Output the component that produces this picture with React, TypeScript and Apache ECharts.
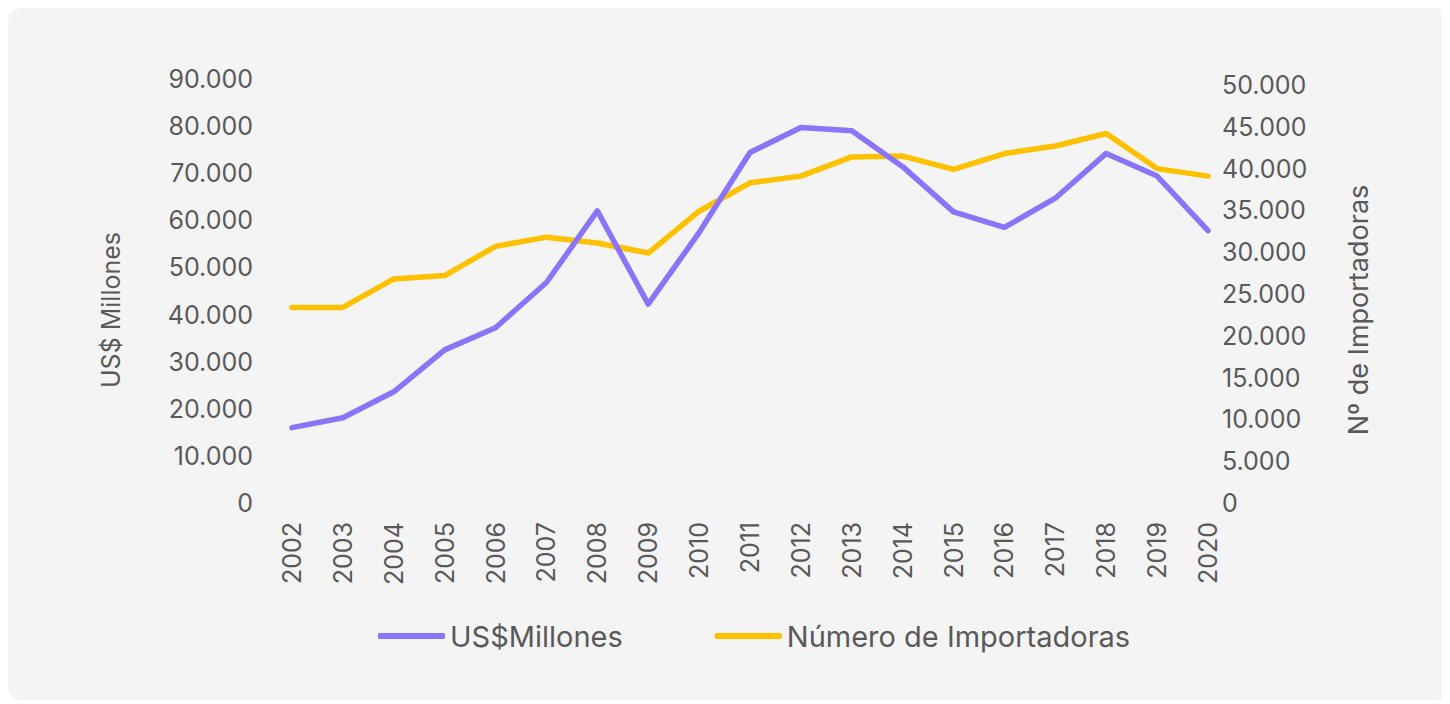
import React, { useEffect, useRef } from "react";
import * as echarts from "echarts";

const years = [
  "2002", "2003", "2004", "2005", "2006", "2007", "2008", "2009", "2010", "2011",
  "2012", "2013", "2014", "2015", "2016", "2017", "2018", "2019", "2020",
];
const usdMillions = [
  16000, 18100, 23600, 32500, 37200, 46800, 62000, 42200, 57400, 74400,
  79700, 79000, 71400, 61800, 58500, 64700, 74200, 69400, 57800,
];
const importerCount = [
  23400, 23400, 26800, 27200, 30700, 31800, 31100, 29900, 34900, 38300,
  39100, 41400, 41500, 39900, 41800, 42700, 44200, 40000, 39100,
];
const seriesNames = ["US$Millones", "Número de Importadoras"];
const leftAxisTitle = "US$ Millones";
const rightAxisTitle = "Nº de Importadoras";

const FONT = "Inter, 'Noto Sans', sans-serif";
const TEXT = "#595959";
const PURPLE = "#8A74F9";
const GOLD = "#FFC000";

const fmt = (v: number) => String(v).replace(/\B(?=(\d{3})+(?!\d))/g, ".");

export default function App() {
  const ref = useRef<HTMLDivElement>(null);
  useEffect(() => {
    if (!ref.current) return;
    const chart = echarts.init(ref.current, undefined, { renderer: "svg" });
    const axisLabelBase = { color: TEXT, fontSize: 25, fontFamily: FONT };
    chart.setOption({
      animation: false,
      backgroundColor: "transparent",
      grid: [
        { left: 283, right: 239, top: 70, bottom: 197 },
        { left: 283, right: 239, top: 76, bottom: 197 },
      ],
      xAxis: [
        {
          type: "category",
          gridIndex: 0,
          data: years,
          boundaryGap: false,
          axisLine: { show: false },
          axisTick: { show: false },
          axisLabel: { ...axisLabelBase, rotate: 90, margin: 19 },
        },
        {
          type: "category",
          gridIndex: 1,
          data: years,
          boundaryGap: false,
          show: false,
        },
      ],
      yAxis: [
        {
          type: "value",
          gridIndex: 0,
          min: 0,
          max: 90000,
          interval: 10000,
          position: "left",
          axisLine: { show: false },
          axisTick: { show: false },
          splitLine: { show: false },
          axisLabel: { ...axisLabelBase, margin: 39, formatter: (v: number) => fmt(v) },
        },
        {
          type: "value",
          gridIndex: 1,
          min: 0,
          max: 50000,
          interval: 5000,
          position: "right",
          axisLine: { show: false },
          axisTick: { show: false },
          splitLine: { show: false },
          axisLabel: { ...axisLabelBase, margin: 14, formatter: (v: number) => fmt(v) },
        },
      ],
      legend: {
        left: 364,
        top: 607,
        itemWidth: 67,
        itemHeight: 6,
        itemGap: 92,
        textStyle: { color: TEXT, fontSize: 29, fontFamily: FONT, lineHeight: 30 },
        data: [
          { name: seriesNames[0], icon: "roundRect", itemStyle: { color: PURPLE } },
          { name: seriesNames[1], icon: "roundRect", itemStyle: { color: GOLD } },
        ],
      },
      graphic: [
        {
          type: "text",
          x: 102,
          y: 301,
          rotation: Math.PI / 2,
          style: {
            text: leftAxisTitle,
            fill: TEXT,
            fontSize: 25,
            fontFamily: FONT,
            textAlign: "center",
            textVerticalAlign: "middle",
          },
        },
        {
          type: "text",
          x: 1349,
          y: 301,
          rotation: Math.PI / 2,
          style: {
            text: rightAxisTitle,
            fill: TEXT,
            fontSize: 27,
            fontFamily: FONT,
            textAlign: "center",
            textVerticalAlign: "middle",
          },
        },
      ],
      series: [
        {
          name: seriesNames[1],
          type: "line",
          xAxisIndex: 1,
          yAxisIndex: 1,
          data: importerCount,
          showSymbol: false,
          symbol: "none",
          lineStyle: { color: GOLD, width: 5.5, cap: "round", join: "round" },
          itemStyle: { color: GOLD },
        },
        {
          name: seriesNames[0],
          type: "line",
          xAxisIndex: 0,
          yAxisIndex: 0,
          data: usdMillions,
          showSymbol: false,
          symbol: "none",
          lineStyle: { color: PURPLE, width: 5.5, cap: "round", join: "round" },
          itemStyle: { color: PURPLE },
        },
      ],
    });
    return () => chart.dispose();
  }, []);
  return (
    <div
      style={{
        marginLeft: 1,
        marginTop: 1,
        width: 1438,
        height: 691,
        background: "#f4f4f4",
        borderRadius: 14,
        boxShadow: "0 0 3px rgba(0,0,0,0.10)",
      }}
    >
      <div ref={ref} style={{ width: 1438, height: 691 }} />
    </div>
  );
}
